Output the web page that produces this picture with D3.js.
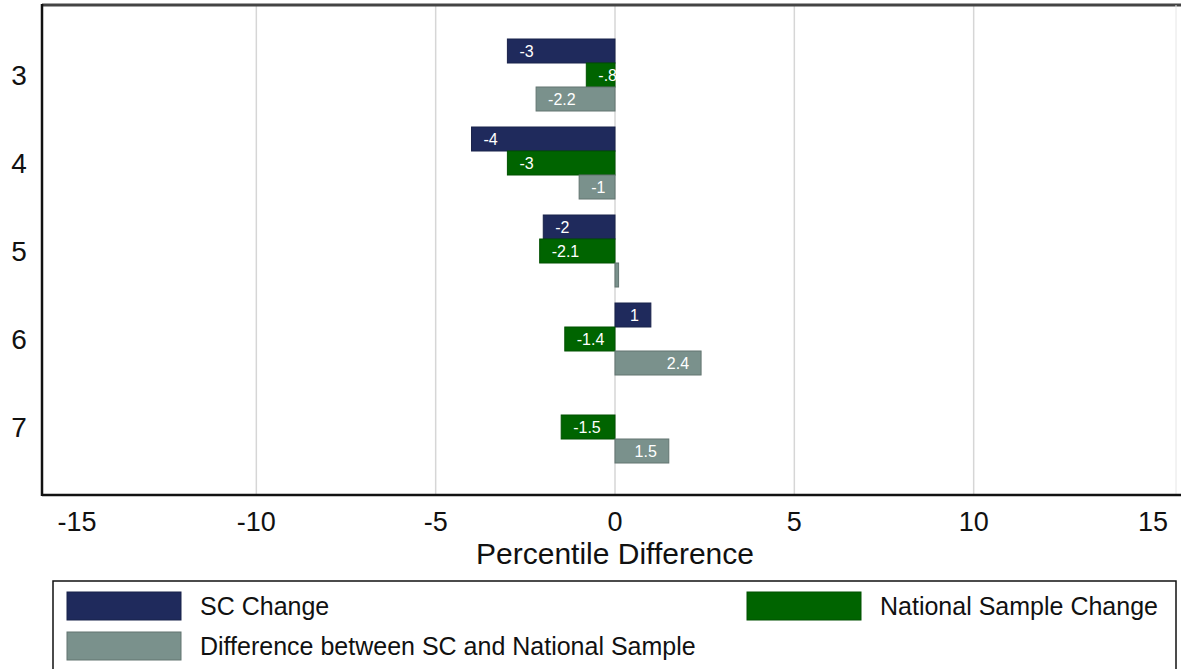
<!DOCTYPE html>
<html lang="en">
<head>
    <meta charset="utf-8" />
    <title>Percentile Difference</title>
    <script src="https://cdnjs.cloudflare.com/ajax/libs/d3/7.8.5/d3.min.js"></script>
    <style>
        body { margin: 0; background: #fff; }
        text { font-family: "Liberation Sans", Arial, sans-serif; }
    </style>
</head>
<body>
    <script>

        var grades = ["3", "4", "5", "6", "7"];
        var scChange = [-3, -4, -2, 1, null];
        var nationalChange = [-0.8, -3, -2.1, -1.4, -1.5];
        var difference = [-2.2, -1, 0.1, 2.4, 1.5];
        var xTicks = [-15, -10, -5, 0, 5, 10, 15];
        var gridTicks = [-10, -5, 0, 5, 10];
        var seriesNames = ["SC Change", "National Sample Change", "Difference between SC and National Sample"];
        var seriesColors = ["#1f2a5c", "#006400", "#7a918c"];

        var width = 1181, height = 669;
        var plotLeft = 42, plotTop = 5, plotBottom = 495;

        var svg = d3.select("body").append("svg")
            .attr("width", width)
            .attr("height", height);

        var x = d3.scaleLinear().domain([-15, 15]).range([77, 1153]);
        var y = d3.scaleBand().domain(grades).range([31, 471]);
        var inner = d3.scaleBand().domain(d3.range(3)).range([-36, 36]);

        // gridlines
        svg.selectAll(".grid")
            .data(gridTicks)
            .enter().append("line")
            .attr("x1", function(d) { return x(d); })
            .attr("x2", function(d) { return x(d); })
            .attr("y1", plotTop)
            .attr("y2", plotBottom)
            .attr("stroke", "#d6d6d6")
            .attr("stroke-width", 1.5);

        // frame
        svg.append("line")
            .attr("x1", plotLeft).attr("x2", width)
            .attr("y1", plotTop).attr("y2", plotTop)
            .attr("stroke", "#444").attr("stroke-width", 3);
        svg.append("line")
            .attr("x1", 1176).attr("x2", 1176)
            .attr("y1", plotTop).attr("y2", plotBottom)
            .attr("stroke", "#e6e6e6").attr("stroke-width", 1);

        var series = [scChange, nationalChange, difference];
        var bars = [];
        grades.forEach(function(g, i) {
            series.forEach(function(s, j) {
                if (s[i] != null) bars.push({ grade: g, k: j, value: s[i] });
            });
        });

        function fmt(v) {
            return String(v).replace("0.", ".");
        }

        svg.selectAll(".bar")
            .data(bars)
            .enter().append("rect")
            .attr("x", function(d) { return Math.min(x(0), x(d.value)); })
            .attr("y", function(d) { return y(d.grade) + y.bandwidth() / 2 + inner(d.k); })
            .attr("width", function(d) { return Math.abs(x(d.value) - x(0)); })
            .attr("height", inner.bandwidth())
            .attr("fill", function(d) { return seriesColors[d.k]; })
            .attr("stroke", function(d) { return d3.color(seriesColors[d.k]).darker(0.6); })
            .attr("stroke-width", 1);

        svg.selectAll(".blabel")
            .data(bars)
            .enter().append("text")
            .attr("x", function(d) { return d.value < 0 ? x(d.value) + 12 : x(d.value) - 12; })
            .attr("y", function(d) { return y(d.grade) + y.bandwidth() / 2 + inner(d.k) + inner.bandwidth() / 2; })
            .attr("dy", "0.36em")
            .attr("text-anchor", function(d) { return d.value < 0 ? "start" : "end"; })
            .attr("fill", "#fff")
            .attr("font-size", 16)
            .text(function(d) { return fmt(d.value); });

        // axes
        svg.append("line")
            .attr("x1", plotLeft).attr("x2", plotLeft)
            .attr("y1", plotTop - 1).attr("y2", plotBottom + 1)
            .attr("stroke", "#111").attr("stroke-width", 2.5);
        svg.append("line")
            .attr("x1", plotLeft).attr("x2", width)
            .attr("y1", plotBottom).attr("y2", plotBottom)
            .attr("stroke", "#111").attr("stroke-width", 2.5);

        svg.selectAll(".ylab")
            .data(grades)
            .enter().append("text")
            .attr("x", 19)
            .attr("y", function(d) { return y(d) + y.bandwidth() / 2; })
            .attr("dy", "0.36em")
            .attr("text-anchor", "middle")
            .attr("font-size", 28)
            .attr("fill", "#111")
            .text(function(d) { return d; });

        svg.selectAll(".xlab")
            .data(xTicks)
            .enter().append("text")
            .attr("x", function(d) { return x(d); })
            .attr("y", 531)
            .attr("text-anchor", "middle")
            .attr("font-size", 27)
            .attr("fill", "#111")
            .text(function(d) { return d; });

        svg.append("text")
            .attr("x", x(0))
            .attr("y", 564)
            .attr("text-anchor", "middle")
            .attr("font-size", 30)
            .attr("fill", "#111")
            .text("Percentile Difference");

        // legend
        svg.append("rect")
            .attr("x", 53).attr("y", 581)
            .attr("width", 1123).attr("height", 110)
            .attr("fill", "#fff")
            .attr("stroke", "#111").attr("stroke-width", 1.5);

        var legendPos = [[67, 592], [747, 592], [67, 632]];
        var legend = svg.selectAll(".legend")
            .data(seriesNames)
            .enter().append("g")
            .attr("transform", function(d, i) { return "translate(" + legendPos[i][0] + "," + legendPos[i][1] + ")"; });

        legend.append("rect")
            .attr("width", 114).attr("height", 28)
            .attr("fill", function(d, i) { return seriesColors[i]; })
            .attr("stroke", function(d, i) { return d3.color(seriesColors[i]).darker(0.6); });

        legend.append("text")
            .attr("x", 133)
            .attr("y", 14)
            .attr("dy", "0.36em")
            .attr("font-size", 25)
            .attr("fill", "#111")
            .text(function(d) { return d; });
    </script>
</body>
</html>
